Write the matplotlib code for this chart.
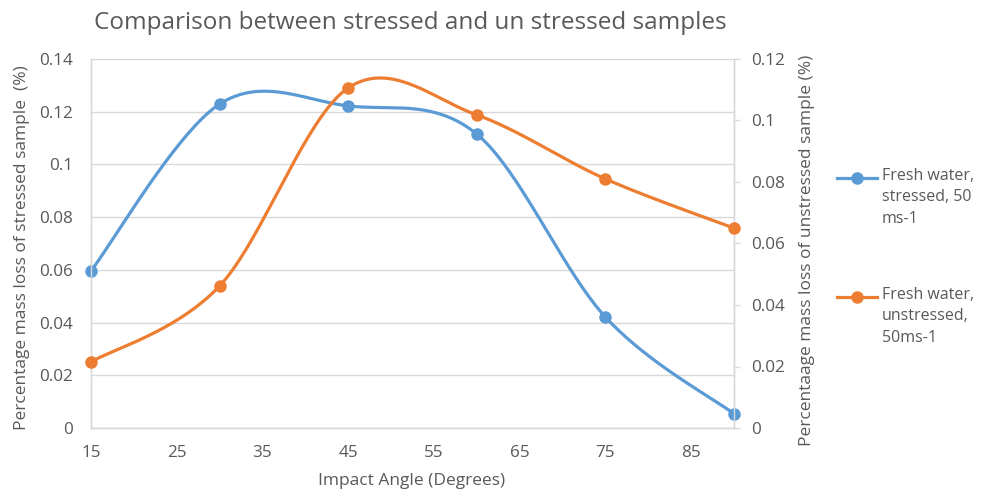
import numpy as np
import matplotlib
matplotlib.use("Agg")
import matplotlib.pyplot as plt
from matplotlib.lines import Line2D

angles = [15, 30, 45, 60, 75, 90]
stressed = [0.0596, 0.1229, 0.1222, 0.1115, 0.0421, 0.0054]
unstressed = [0.0215, 0.0462, 0.1106, 0.1018, 0.0810, 0.0650]
x_ticks = [15, 25, 35, 45, 55, 65, 75, 85]
left_ticks = [0, 0.02, 0.04, 0.06, 0.08, 0.1, 0.12, 0.14]
left_labels = ["0", "0.02", "0.04", "0.06", "0.08", "0.1", "0.12", "0.14"]
right_ticks = [0, 0.02, 0.04, 0.06, 0.08, 0.1, 0.12]
right_labels = ["0", "0.02", "0.04", "0.06", "0.08", "0.1", "0.12"]
label_stressed = "Fresh water,\nstressed, 50\nms-1"
label_unstressed = "Fresh water,\nunstressed,\n50ms-1"

BLUE = "#5B9BD5"
ORANGE = "#ED7D31"
TXT = "#595959"
GRID = "#D9D9D9"
FONT = "Open Sans"
plt.rcParams['font.family'] = [FONT, 'DejaVu Sans']

TICK_FS = 12.3
LAB_FS = 12.5


def smooth(xs, ys, n=40):
    xs = np.asarray(xs, float)
    ys = np.asarray(ys, float)
    P = np.column_stack([xs, ys])
    Pe = np.vstack([P[0], P, P[-1]])
    out = []
    for i in range(len(P) - 1):
        p0, p1, p2, p3 = Pe[i], Pe[i + 1], Pe[i + 2], Pe[i + 3]
        c1 = p1 + (p2 - p0) / 6.0
        c2 = p2 - (p3 - p1) / 6.0
        t = np.linspace(0, 1, n)[:, None]
        seg = ((1 - t) ** 3) * p1 + 3 * ((1 - t) ** 2) * t * c1 + 3 * (1 - t) * t ** 2 * c2 + t ** 3 * p2
        out.append(seg if i == 0 else seg[1:])
    s = np.vstack(out)
    return s[:, 0], s[:, 1]


fig = plt.figure(figsize=(9.86, 4.92), dpi=100)
ax = fig.add_axes([91 / 986, 1 - 428 / 492, (734 - 91) / 986, (428 - 59) / 492])
ax2 = ax.twinx()

ax.set_xlim(15, 90)
ax.set_ylim(0, 0.14)
ax2.set_ylim(0, 0.12)

sx, sy = smooth(angles, stressed)
ax.plot(sx, sy, color=BLUE, lw=2.3, solid_capstyle='round', zorder=3)
ax.plot(angles, stressed, 'o', color=BLUE, ms=8, zorder=4, clip_on=False)

ux, uy = smooth(angles, unstressed)
ax2.plot(ux, uy, color=ORANGE, lw=2.3, solid_capstyle='round', zorder=3)
ax2.plot(angles, unstressed, 'o', color=ORANGE, ms=8, zorder=4, clip_on=False)

ax.set_yticks(left_ticks)
ax.set_yticklabels(left_labels)
ax2.set_yticks(right_ticks)
ax2.set_yticklabels(right_labels)
ax.set_xticks(x_ticks)
ax.set_xticklabels([str(v) for v in x_ticks])

ax.grid(axis='y', color=GRID, lw=1)
ax.set_axisbelow(True)

for a in (ax, ax2):
    a.spines['top'].set_visible(False)
    for s in ('left', 'right', 'bottom'):
        a.spines[s].set_color(GRID)
        a.spines[s].set_linewidth(1)

ax.tick_params(axis='x', length=0, pad=12, labelsize=TICK_FS, labelcolor=TXT)
ax.tick_params(axis='y', length=0, pad=13, labelsize=TICK_FS, labelcolor=TXT)
ax2.tick_params(axis='y', length=4.3, width=1, color=GRID, pad=8, labelsize=TICK_FS, labelcolor=TXT)

ax.set_xlabel("Impact Angle (Degrees)", fontsize=LAB_FS, color=TXT, va='center')
ax.xaxis.set_label_coords((412 - 91) / 643, (428 - 481) / 369)
ax.set_ylabel("Percentage mass loss of stressed sample  (%)", fontsize=LAB_FS, color=TXT,
              va='center', ha='center')
ax.yaxis.set_label_coords((22 - 91) / 643, (428 - 248) / 369)
ax2.set_ylabel("Percentaage mass loss of unstressed sample (%)", fontsize=LAB_FS, color=TXT,
               va='center', ha='center')
ax2.yaxis.set_label_coords((807 - 91) / 643, (428 - 250) / 369)

fig.text(410 / 986, 1 - 23 / 492, "Comparison between stressed and un stressed samples",
         ha='center', va='center', fontsize=17.5, color=TXT)

# legend
for ypix, col, lab in ((178, BLUE, label_stressed), (297, ORANGE, label_unstressed)):
    yf = 1 - ypix / 492
    fig.add_artist(Line2D([837 / 986, 877 / 986], [yf, yf], color=col, lw=2.3,
                          transform=fig.transFigure))
    fig.add_artist(Line2D([857 / 986], [yf], marker='o', ms=8, color=col,
                          transform=fig.transFigure))
    fig.text(882 / 986, yf + 10 / 492, lab, ha='left', va='top', fontsize=11.5,
             color=TXT, linespacing=1.45)

fig.savefig("out.png", dpi=100)
